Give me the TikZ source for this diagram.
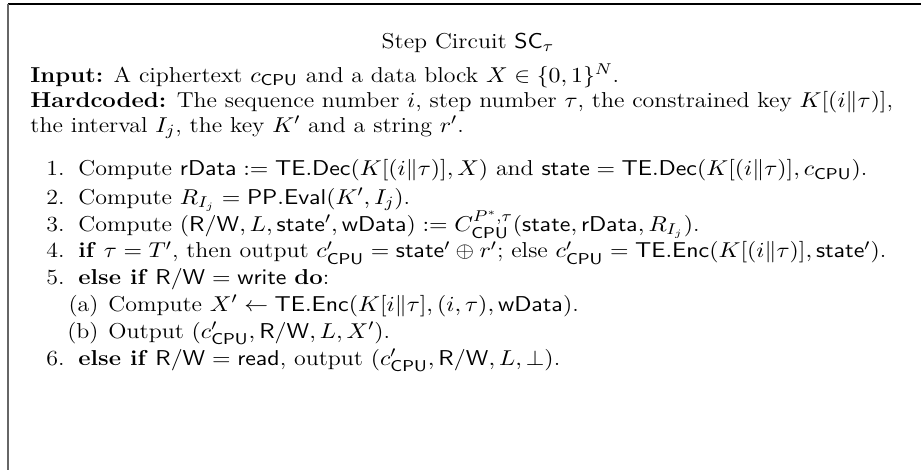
\documentclass[tikz,border=0pt]{standalone}
\usepackage{amsmath,amssymb}
\newcommand{\cpu}{\mathsf{CPU}}
\newcommand{\kit}{K[(i\|\tau)]}
\tikzset{
  widetext/.style={inner sep=0pt, xscale=1.11, font=\fontsize{11}{13.2}\selectfont},
  line/.style={widetext, anchor=base west},
  num/.style={widetext, anchor=base east},
  frameline/.style={line width=0.9pt}
}
\begin{document}
\begin{tikzpicture}[x=1pt,y=-1pt]
\useasboundingbox (0,0) rectangle (470,240);
% frame edges
\draw[frameline, black] (4,2) -- (470,2);
\draw[frameline, black!60] (4,2) -- (4,240);
% title
\node[widetext, anchor=base] (title) at (238.8,24.5) {Step Circuit $\mathsf{SC}_\tau$};
% header paragraph
\node[line] (input) at (15.3,42) {\textbf{Input:} A ciphertext $c_{\cpu}$ and a data block $X\in\{0,1\}^N$.};
\node[line] (hard) at (15.3,54.7) {\textbf{Hardcoded:} The sequence number $i$, step number $\tau$, the constrained key $\kit$,};
\node[line] (hard2) at (15.3,67.4) {the interval $I_j$, the key $K'$ and a string $r'$.};
% numbered steps
\node[num] (n1) at (33.2,89.8) {1.};
\node[line] (s1) at (39.8,89.8) {Compute $\mathsf{rData}:=\mathsf{TE.Dec}(\kit,X)$ and $\mathsf{state}=\mathsf{TE.Dec}(\kit,c_{\cpu})$.};
\node[num] (n2) at (33.2,104.2) {2.};
\node[line] (s2) at (39.8,104.2) {Compute $R_{I_j}=\mathsf{PP.Eval}(K',I_j)$.};
\node[num] (n3) at (33.2,118.2) {3.};
\node[line] (s3) at (39.8,118.2) {Compute $(\mathsf{R/W},L,\mathsf{state}',\mathsf{wData}):=C_{\cpu}^{P^*,\tau}(\mathsf{state},\mathsf{rData},R_{I_j})$.};
\node[num] (n4) at (33.2,131.6) {4.};
\node[line] (s4) at (39.8,131.6) {\textbf{if} $\tau=T'$, then output $c'_{\cpu}=\mathsf{state}'\oplus r'$; else $c'_{\cpu}=\mathsf{TE.Enc}(\kit,\mathsf{state}')$.};
\node[num] (n5) at (33.2,145.3) {5.};
\node[line] (s5) at (39.8,145.3) {\textbf{else if} $\mathsf{R/W}=\mathsf{write}$ \textbf{do}:};
\node[num] (na) at (50.5,158.8) {(a)};
\node[line] (sa) at (55.1,158.8) {Compute $X'\leftarrow\mathsf{TE.Enc}(K[i\|\tau],(i,\tau),\mathsf{wData})$.};
\node[num] (nb) at (50.5,172.5) {(b)};
\node[line] (sb) at (55.1,172.5) {Output $(c'_{\cpu},\mathsf{R/W},L,X')$.};
\node[num] (n6) at (33.2,186.4) {6.};
\node[line] (s6) at (39.8,186.4) {\textbf{else if} $\mathsf{R/W}=\mathsf{read}$, output $(c'_{\cpu},\mathsf{R/W},L,\bot)$.};
\end{tikzpicture}
\end{document}
